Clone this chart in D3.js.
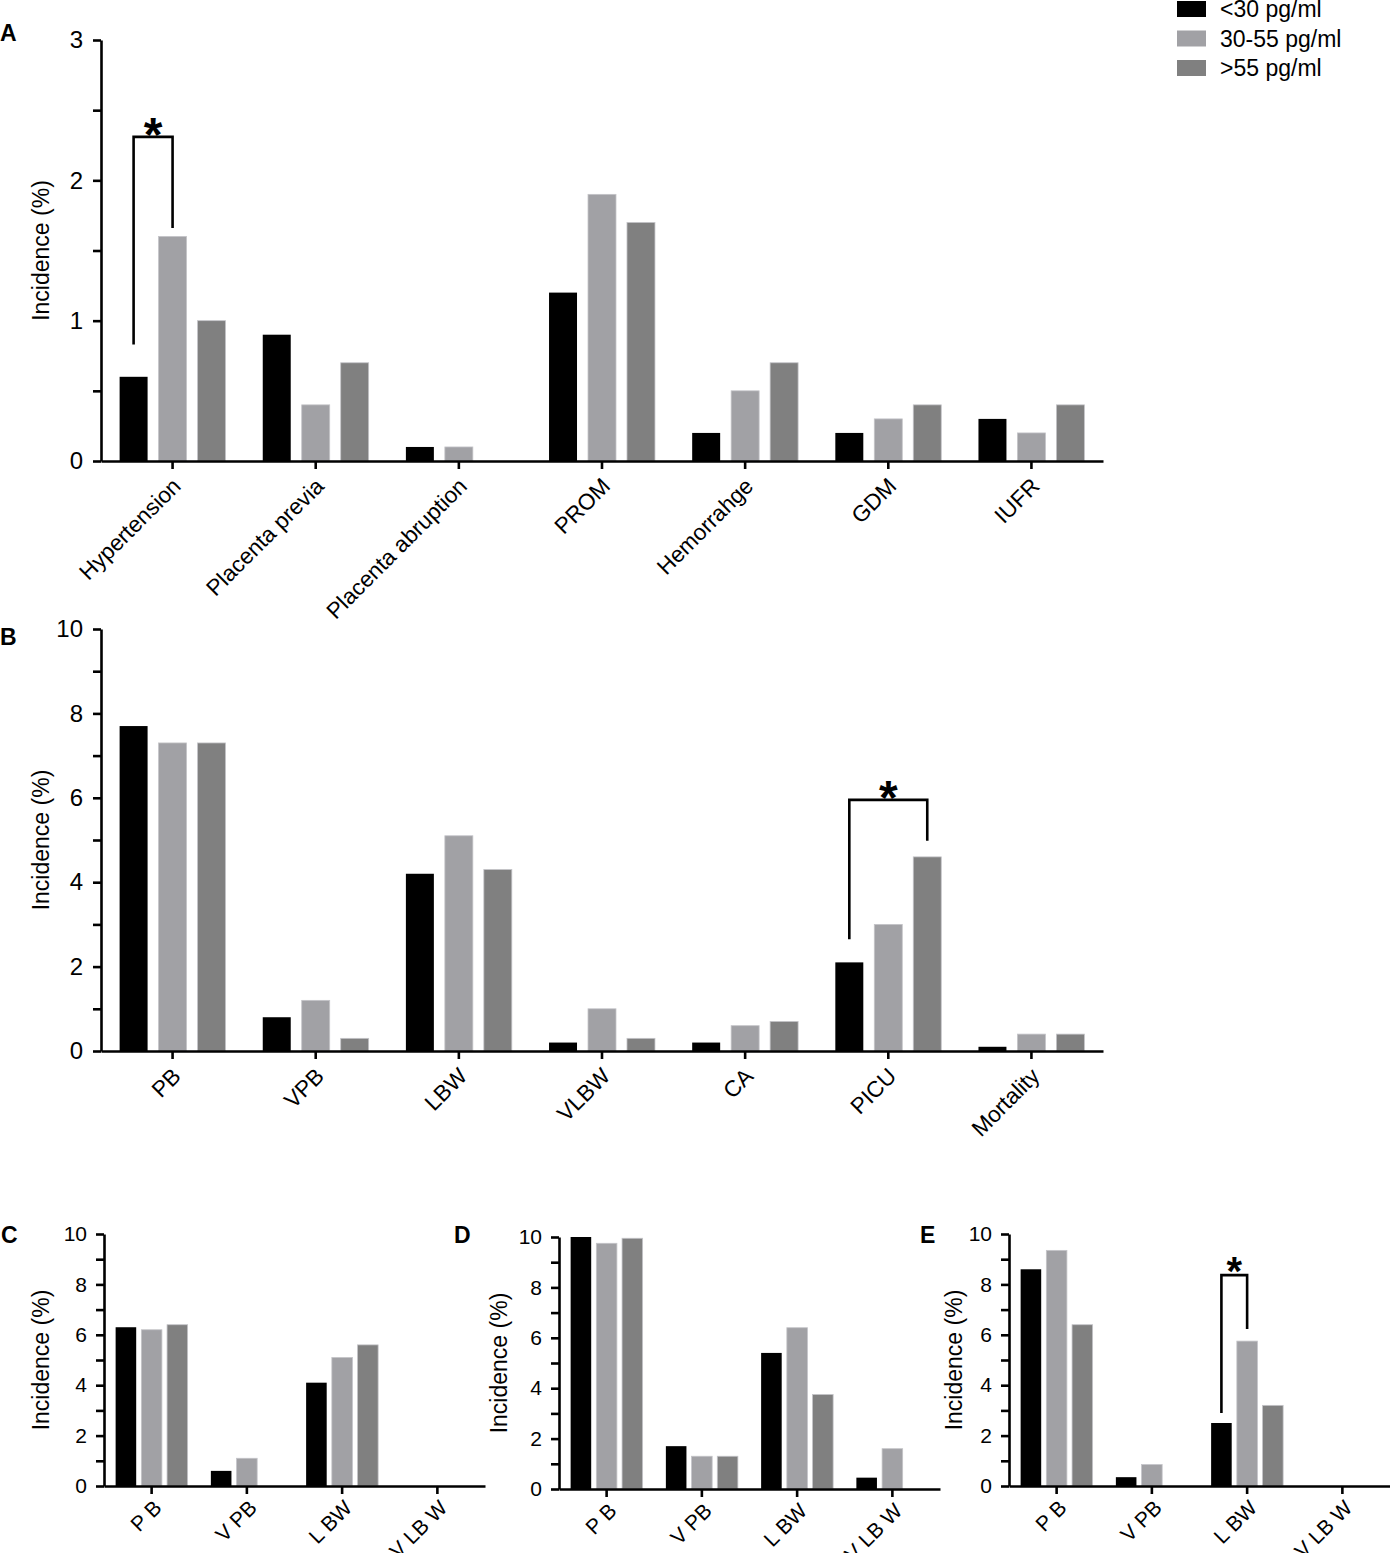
<!DOCTYPE html>
<html><head><meta charset="utf-8">
<script src="https://cdn.jsdelivr.net/npm/d3@7/dist/d3.min.js"></script>
<style>body{margin:0;background:#fff}svg{display:block}text{font-family:"Liberation Sans",Arial,sans-serif}</style>
</head><body>
<script>
// ---------- data ----------
const seriesNames = ["<30 pg/ml", "30-55 pg/ml", ">55 pg/ml"];
const seriesColors = ["#000000", "#a1a1a5", "#808080"];

const catA = ["Hypertension", "Placenta previa", "Placenta abruption", "PROM", "Hemorrahge", "GDM", "IUFR"];
const aLow  = [0.6, 0.9, 0.1, 1.2, 0.2, 0.2, 0.3];
const aMid  = [1.6, 0.4, 0.1, 1.9, 0.5, 0.3, 0.2];
const aHigh = [1.0, 0.7, 0.0, 1.7, 0.7, 0.4, 0.4];
const ticksA = [0, 1, 2, 3];
const minorA = [0.5, 1.5, 2.5];

const catB = ["PB", "VPB", "LBW", "VLBW", "CA", "PICU", "Mortality"];
const bLow  = [7.7, 0.8, 4.2, 0.2, 0.2, 2.1, 0.1];
const bMid  = [7.3, 1.2, 5.1, 1.0, 0.6, 3.0, 0.4];
const bHigh = [7.3, 0.3, 4.3, 0.3, 0.7, 4.6, 0.4];
const ticks10 = [0, 2, 4, 6, 8, 10];
const minor10 = [1, 3, 5, 7, 9];

const catSmall = ["P B", "V PB", "L BW", "V LB W"];
const cLow  = [6.3, 0.6, 4.1, 0];
const cMid  = [6.2, 1.1, 5.1, 0];
const cHigh = [6.4, 0.0, 5.6, 0];
const dLow  = [10.0, 1.7, 5.4, 0.45];
const dMid  = [9.75, 1.3, 6.4, 1.6];
const dHigh = [9.95, 1.3, 3.75, 0];
const eLow  = [8.6, 0.35, 2.5, 0];
const eMid  = [9.35, 0.85, 5.75, 0];
const eHigh = [6.4, 0.0, 3.2, 0];

// significance brackets: [category index, series a, series b, top, bottom a, bottom b]
const sigA = [[0, 0, 1, 2.31, 0.83, 1.66]];
const sigB = [[5, 0, 2, 5.95, 2.65, 4.98]];
const sigE = [[2, 0, 1, 8.37, 2.9, 6.23]];

// ---------- drawing ----------
const svg = d3.select("body").append("svg").attr("width", 1390).attr("height", 1553);

function panel(o) {
  const g = svg.append("g");
  const x = d3.scaleBand().domain(o.cats).range(o.xr).paddingInner(0).paddingOuter(0);
  const y = d3.scaleLinear().domain(o.dom).range(o.yr);
  const bw = x.bandwidth();
  const x1 = d3.scaleBand().domain([0, 1, 2]).range([bw * o.gOff, bw * (1 - o.gOff)]).paddingInner(o.pin).paddingOuter(0);
  const series = [o.low, o.mid, o.high];
  const rows = [];
  o.cats.forEach((c, i) => series.forEach((s, k) => rows.push({c, k, v: s[i]})));
  g.selectAll("rect.bar").data(rows.filter(d => d.v > 0)).join("rect")
    .attr("class", "bar")
    .attr("x", d => x(d.c) + x1(d.k))
    .attr("width", x1.bandwidth())
    .attr("y", d => y(d.v))
    .attr("height", d => y(0) - y(d.v))
    .attr("fill", d => seriesColors[d.k])
    .attr("stroke", d => d.k === 0 ? "none" : "#c4c4c8")
    .attr("stroke-width", 0.8);

  // y axis
  const ya = g.append("g").attr("transform", `translate(${o.xr[0]},0)`)
    .call(d3.axisLeft(y).tickValues(o.ticks).tickSize(8).tickSizeOuter(0).tickPadding(o.tp).tickFormat(d3.format("d")));
  g.append("g").attr("transform", `translate(${o.xr[0]},0)`)
    .call(d3.axisLeft(y).tickValues(o.minor).tickSize(8).tickSizeOuter(0).tickFormat(""))
    .select(".domain").remove();
  // x axis
  g.append("g").attr("transform", `translate(0,${o.yr[0]})`)
    .call(d3.axisBottom(x).tickSize(8).tickSizeOuter(0).tickFormat(""));
  g.selectAll(".domain, .tick line").attr("stroke", "#000").attr("stroke-width", 2.6);
  ya.selectAll(".tick text").attr("font-size", o.tfs).attr("fill", "#000")
    .attr("font-family", '"Liberation Sans",Arial,sans-serif');

  // x labels
  g.selectAll("text.xl").data(o.cats).join("text").attr("class", "xl")
    .attr("transform", d => `translate(${x(d) + bw / 2 + o.lx},${o.yr[0] + o.ly}) rotate(-45)`)
    .attr("text-anchor", "end").attr("font-size", o.lfs).attr("dy", "0.35em").text(d => d);

  // y label
  g.append("text").attr("transform", `translate(${o.ylx},${(o.yr[0] + o.yr[1]) / 2}) rotate(-90)`)
    .attr("text-anchor", "middle").attr("font-size", 23).text("Incidence (%)");
  // panel letter
  g.append("text").attr("x", o.px).attr("y", o.py).attr("font-size", 23).attr("font-weight", "bold").text(o.letter);

  // significance
  (o.sig || []).forEach(s => {
    const [ci, a, b, top, ba, bb] = s;
    const xa_ = x(o.cats[ci]) + x1(a) + x1.bandwidth() / 2;
    const xb_ = x(o.cats[ci]) + x1(b) + x1.bandwidth() / 2;
    g.append("path").attr("fill", "none").attr("stroke", "#000").attr("stroke-width", 2.6)
      .attr("d", `M${xa_},${y(ba)}V${y(top)}H${xb_}V${y(bb)}`);
    const fs = o.sfs;
    g.append("text").attr("x", (xa_ + xb_) / 2).attr("y", y(top) - 13 + 0.57 * fs)
      .attr("text-anchor", "middle").attr("font-size", fs).attr("font-weight", "bold").text("*");
  });
}

const big = {gOff: 0.13, pin: 0.282, lx: 4, ly: 21, lfs: 22.5, sfs: 48, tfs: 24, tp: 10};
const small = {gOff: 0.122, pin: 0.2, lx: 6, ly: 18, lfs: 21, sfs: 40, tfs: 21, tp: 9};

panel(Object.assign({}, big, {cats: catA, low: aLow, mid: aMid, high: aHigh, dom: [0, 3], ticks: ticksA, minor: minorA,
  xr: [101, 1103], yr: [461, 40], ylx: 49, px: 0, py: 41, letter: "A", sig: sigA}));
panel(Object.assign({}, big, {cats: catB, low: bLow, mid: bMid, high: bHigh, dom: [0, 10], ticks: ticks10, minor: minor10,
  xr: [101, 1103], yr: [1051, 629], ylx: 49, px: 0, py: 645, letter: "B", sig: sigB}));
panel(Object.assign({}, small, {cats: catSmall, low: cLow, mid: cMid, high: cHigh, dom: [0, 10], ticks: ticks10, minor: minor10,
  xr: [104, 485], yr: [1486, 1234], ylx: 49, px: 1, py: 1243, letter: "C"}));
panel(Object.assign({}, small, {cats: catSmall, low: dLow, mid: dMid, high: dHigh, dom: [0, 10], ticks: ticks10, minor: minor10,
  xr: [559, 940], yr: [1489, 1237], ylx: 507, px: 454, py: 1243, letter: "D"}));
panel(Object.assign({}, small, {cats: catSmall, low: eLow, mid: eMid, high: eHigh, dom: [0, 10], ticks: ticks10, minor: minor10,
  xr: [1009, 1390], yr: [1486, 1234], ylx: 962, px: 920, py: 1243, letter: "E", sig: sigE}));

// legend
const lg = svg.append("g");
lg.selectAll("rect").data(seriesNames).join("rect")
  .attr("x", 1177).attr("y", (d, i) => 1 + i * 29.5).attr("width", 29).attr("height", 16)
  .attr("fill", (d, i) => seriesColors[i]);
lg.selectAll("text").data(seriesNames).join("text")
  .attr("x", 1220).attr("y", (d, i) => 17 + i * 29.5).attr("font-size", 23).text(d => d);
</script>
</body></html>
